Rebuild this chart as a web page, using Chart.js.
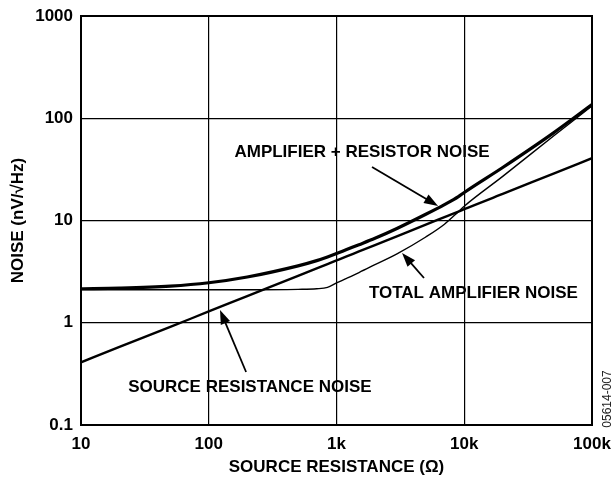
<!DOCTYPE html>
<html><head><meta charset="utf-8">
<script src="https://cdn.jsdelivr.net/npm/chart.js@4"></script>
<style>html,body{margin:0;padding:0;background:#fff;} canvas{display:block;}</style>
</head><body>
<canvas id="c" width="613" height="479"></canvas>
<script>
// Source resistance (ohms)
const resistance    = [10, 20, 50, 100, 200, 500, 700, 850, 1000, 1200, 1500, 2000, 3000, 5000, 7000, 9000, 10000, 20000, 50000, 100000];
// Noise values (nV/√Hz)
const sourceNoise   = [0.41, 0.58, 0.91, 1.29, 1.82, 2.88, 3.4, 3.75, 4.07, 4.46, 4.98, 5.75, 7.05, 9.1, 10.8, 12.2, 12.9, 18.2, 28.8, 40.7];
const totalAmpNoise = [2.1, 2.1, 2.1, 2.1, 2.1, 2.12, 2.15, 2.22, 2.45, 2.72, 3.1, 3.7, 4.75, 6.9, 9.2, 12.2, 13.8, 27, 67, 132];
const ampResNoise   = [2.15, 2.18, 2.28, 2.46, 2.8, 3.6, 4.05, 4.4, 4.75, 5.2, 5.8, 6.7, 8.4, 11.5, 14.3, 17.1, 18.8, 33, 72, 136];

const xTicks = [10, 100, 1000, 10000, 100000];
const xTickLabels = ['10', '100', '1k', '10k', '100k'];
const yTicks = [0.1, 1, 10, 100, 1000];
const yTickLabels = ['0.1', '1', '10', '100', '1000'];

const annotations = [
  {text: 'AMPLIFIER + RESISTOR NOISE', tx: 1585, ty: 46.8, from: [1897, 33.4], to: [6237, 13.9]},
  {text: 'TOTAL AMPLIFIER NOISE', tx: 11800, ty: 1.95, from: [4840, 2.74], to: [3260, 4.81]},
  {text: 'SOURCE RESISTANCE NOISE', tx: 210, ty: 0.235, from: [196, 0.330], to: [122.5, 1.33]}
];
const figureId = '05614-007';

const FONT = "'Liberation Sans', Arial, Helvetica, sans-serif";
Chart.defaults.font.family = FONT;
Chart.defaults.color = '#000';

const toXY = vals => resistance.map((r, i) => ({x: r, y: vals[i]}));

const overlay = {
  id: 'overlay',
  afterDatasetsDraw(chart) {
    const ctx = chart.ctx, xs = chart.scales.x, ys = chart.scales.y, a = chart.chartArea;
    ctx.save();
    ctx.strokeStyle = '#000';
    ctx.lineWidth = 2;
    ctx.strokeRect(a.left, a.top, a.right - a.left, a.bottom - a.top);
    ctx.fillStyle = '#000';
    ctx.font = 'bold 17px ' + FONT;
    ctx.textAlign = 'center';
    ctx.textBaseline = 'middle';
    annotations.forEach(an => {
      const tx = xs.getPixelForValue(an.tx), ty = ys.getPixelForValue(an.ty);
      ctx.fillText(an.text, tx, ty);
      const x1 = xs.getPixelForValue(an.from[0]), y1 = ys.getPixelForValue(an.from[1]);
      const x2 = xs.getPixelForValue(an.to[0]), y2 = ys.getPixelForValue(an.to[1]);
      const ang = Math.atan2(y2 - y1, x2 - x1);
      const L = 14, W = 5;
      ctx.lineWidth = 1.8;
      ctx.beginPath();
      ctx.moveTo(x1, y1);
      ctx.lineTo(x2 - Math.cos(ang) * L * 0.8, y2 - Math.sin(ang) * L * 0.8);
      ctx.stroke();
      ctx.beginPath();
      ctx.moveTo(x2, y2);
      ctx.lineTo(x2 - Math.cos(ang) * L - Math.sin(ang) * W, y2 - Math.sin(ang) * L + Math.cos(ang) * W);
      ctx.lineTo(x2 - Math.cos(ang) * L + Math.sin(ang) * W, y2 - Math.sin(ang) * L - Math.cos(ang) * W);
      ctx.closePath();
      ctx.fill();
    });
    ctx.font = '12px ' + FONT;
    ctx.fillStyle = '#222';
    ctx.translate(608, 399);
    ctx.rotate(-Math.PI / 2);
    ctx.fillText(figureId, 0, 0);
    ctx.restore();
  }
};

new Chart(document.getElementById('c'), {
  type: 'line',
  data: {
    datasets: [
      {label: 'TOTAL AMPLIFIER NOISE', data: toXY(totalAmpNoise), borderColor: '#000', borderWidth: 1.4},
      {label: 'SOURCE RESISTANCE NOISE', data: toXY(sourceNoise), borderColor: '#000', borderWidth: 2.4},
      {label: 'AMPLIFIER + RESISTOR NOISE', data: toXY(ampResNoise), borderColor: '#000', borderWidth: 3.2}
    ]
  },
  options: {
    responsive: false,
    animation: false,
    devicePixelRatio: 1,
    layout: {padding: {left: 0, top: 16, right: 21, bottom: 0}},
    elements: {point: {radius: 0}, line: {cubicInterpolationMode: 'monotone', borderCapStyle: 'round', borderJoinStyle: 'round'}},
    plugins: {legend: {display: false}, tooltip: {enabled: false}},
    scales: {
      x: {
        type: 'logarithmic', min: 10, max: 100000, position: 'bottom',
        afterBuildTicks: s => { s.ticks = xTicks.map(v => ({value: v})); },
        afterFit: s => { s.height = 54; s.paddingLeft = 0; s.paddingRight = 0; },
        ticks: {autoSkip: false, maxRotation: 0, padding: 9, font: {size: 17, weight: 'bold'},
                callback: (v, i) => xTickLabels[i]},
        grid: {color: '#000', lineWidth: 1.2, drawTicks: false},
        border: {display: true, color: '#000', width: 2},
        title: {display: true, text: 'SOURCE RESISTANCE (Ω)', font: {size: 17, weight: 'bold'}, padding: {top: 0, bottom: 1}}
      },
      y: {
        type: 'logarithmic', min: 0.1, max: 1000,
        afterBuildTicks: s => { s.ticks = yTicks.map(v => ({value: v})); },
        afterFit: s => { s.width = 81; s.paddingTop = 0; s.paddingBottom = 0; },
        ticks: {autoSkip: false, padding: 8, font: {size: 17, weight: 'bold'},
                callback: (v, i) => yTickLabels[i]},
        grid: {color: '#000', lineWidth: 1.2, drawTicks: false},
        border: {display: true, color: '#000', width: 2},
        title: {display: true, text: 'NOISE (nV/√Hz)', font: {size: 17, weight: 'bold'}, padding: {top: 8, bottom: 0}}
      }
    }
  },
  plugins: [overlay]
});
</script>
</body></html>
